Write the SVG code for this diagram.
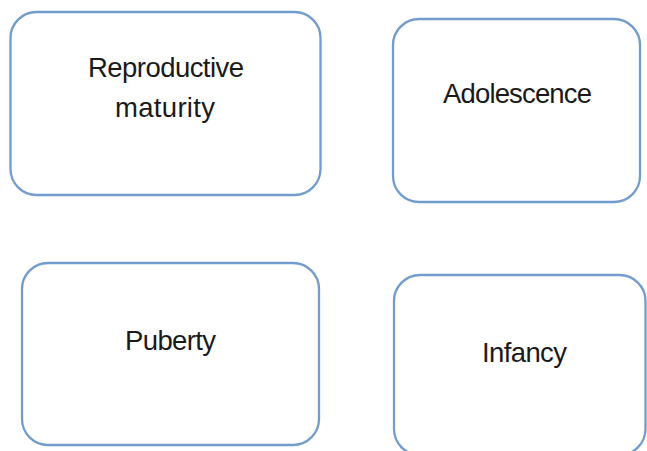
<svg xmlns="http://www.w3.org/2000/svg" width="647" height="451" viewBox="0 0 647 451">
<style>
.box{fill:#ffffff;stroke:#729ccb;stroke-width:2.3}
.lbl{font-family:"Liberation Sans",Arial,sans-serif;font-size:27.5px;fill:#1a1a1a;text-anchor:middle}
</style>
<rect width="647" height="451" fill="#ffffff"/>
<g id="connectors"></g>
<g id="reproductive-maturity">
<rect class="box" x="10.5" y="12" width="310" height="183" rx="26"/>
<text class="lbl" x="166" y="77" textLength="156" lengthAdjust="spacing">Reproductive</text>
<text class="lbl" x="165" y="117" textLength="100" lengthAdjust="spacing">maturity</text>
</g>
<g id="adolescence">
<rect class="box" x="393" y="19" width="247" height="183" rx="26"/>
<text class="lbl" x="517.5" y="103" textLength="149" lengthAdjust="spacing">Adolescence</text>
</g>
<g id="puberty">
<rect class="box" x="22" y="263" width="297" height="182" rx="26"/>
<text class="lbl" x="170.5" y="350" textLength="91" lengthAdjust="spacing">Puberty</text>
</g>
<g id="infancy">
<rect class="box" x="394" y="275" width="251.5" height="180" rx="26"/>
<text class="lbl" x="524.5" y="362" textLength="85" lengthAdjust="spacing">Infancy</text>
</g>
</svg>
